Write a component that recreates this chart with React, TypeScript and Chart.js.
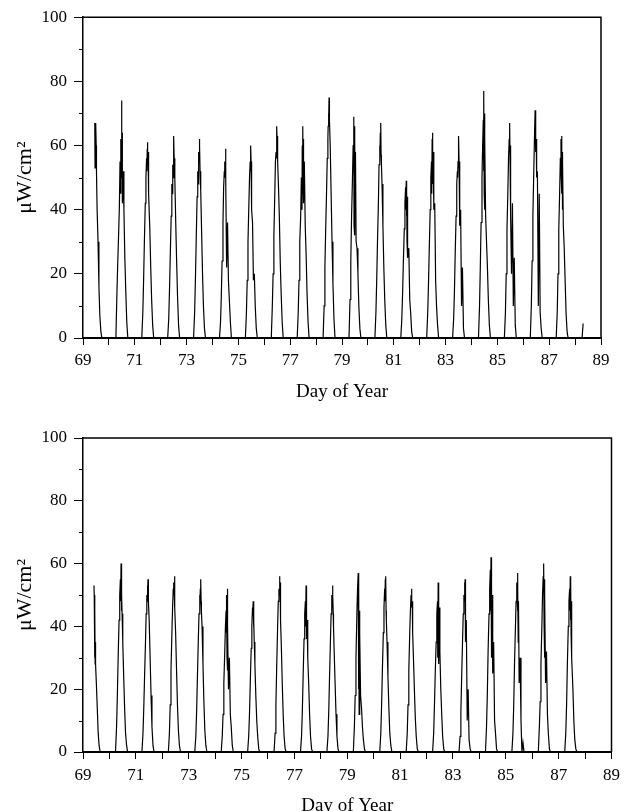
import React, { useEffect, useRef } from 'react';
import { Chart, registerables } from 'chart.js';

Chart.register(...registerables);

const FONT = "'Liberation Serif', 'Times New Roman', Times, serif";

// Day of year (start of each day)
const DAYS = [69, 70, 71, 72, 73, 74, 75, 76, 77, 78, 79, 80, 81, 82, 83, 84, 85, 86, 87, 88];

// Labelled x ticks and y ticks
const X_TICK_LABELS = ['69', '71', '73', '75', '77', '79', '81', '83', '85', '87', '89'];
const Y_MINOR_TICKS = [10, 30, 50, 70, 90];

const Y_TITLE = '\u03bcW/cm\u00b2';
const X_TITLE = 'Day of Year';

// Sample times within each day (fraction of day) – top panel
const TOP_FRACTIONS = [0.27, 0.31, 0.34, 0.37, 0.405, 0.43, 0.455, 0.465, 0.48, 0.49, 0.50, 0.51, 0.52, 0.545, 0.58, 0.615, 0.65, 0.69, 0.73];

// Irradiance (µW/cm²) per day – top panel
const TOP_VALUES: (number | null)[][] = [
  [null, null, null, null, null, null, 67, 53, 66, 56, 67, 60, 52, 40, 30, 16, 7, 2, 0],
  [0, 14, 23, 31, 41, 55, 45, 62, 50, 74, 58, 64, 42, 52, 40, 25, 15, 5, 0],
  [0, 8, 18, 30, 42, 50, 56, 52, 59, 61, 55, 58, 48, 45, 34, 22, 12, 4, 0],
  [0, 6, 15, 26, 38, 48, 45, 54, 50, 58, 52, 63, 56, 50, 36, 24, 13, 4, 0],
  [0, 8, 18, 30, 44, 52, 48, 58, 55, 62, 57, 60, 52, 46, 33, 20, 10, 3, 0],
  [0, 5, 13, 24, 36, 47, 52, 50, 55, 53, 57, 59, 50, 22, 36, 18, 12, 5, 0],
  [0, 8, 18, 30, 42, 50, 55, 52, 60, 55, 50, 45, 40, 36, 18, 20, 10, 3, 0],
  [0, 10, 20, 32, 45, 55, 58, 62, 56, 66, 60, 63, 55, 48, 38, 24, 14, 5, 0],
  [0, 8, 18, 30, 38, 50, 40, 60, 45, 66, 48, 62, 42, 55, 35, 26, 14, 5, 0],
  [0, 10, 22, 34, 46, 56, 62, 66, 70, 68, 75, 72, 68, 60, 45, 30, 17, 6, 0],
  [0, 12, 24, 38, 50, 60, 69, 35, 66, 32, 62, 40, 58, 30, 28, 20, 10, 3, 0],
  [0, 8, 18, 30, 42, 54, 60, 56, 64, 58, 67, 57, 55, 48, 35, 22, 12, 4, 0],
  [0, 6, 14, 24, 34, 42, 47, 40, 49, 38, 46, 30, 44, 25, 28, 12, 8, 2, 0],
  [0, 8, 17, 28, 40, 50, 55, 45, 62, 48, 64, 52, 58, 40, 42, 18, 10, 4, 0],
  [0, 6, 14, 26, 38, 48, 52, 50, 55, 58, 60, 63, 55, 35, 40, 10, 22, 3, 0],
  [0, 10, 22, 36, 50, 60, 68, 52, 77, 45, 70, 40, 62, 38, 30, 22, 12, 4, 0],
  [0, 8, 20, 34, 46, 56, 62, 58, 67, 55, 45, 60, 38, 20, 42, 10, 25, 4, 0],
  [0, 10, 24, 38, 52, 62, 71, 64, 68, 58, 62, 55, 50, 52, 10, 45, 8, 3, 0],
  [0, 8, 20, 34, 46, 56, 62, 50, 63, 45, 58, 40, 55, 35, 28, 18, 8, 2, 0],
  [0, 4.5, null, null, null, null, null, null, null, null, null, null, null, null, null, null, null, null, null],
];

// Sample times within each day (fraction of day) – bottom panel
const BOTTOM_FRACTIONS = [0.23, 0.27, 0.30, 0.33, 0.365, 0.39, 0.415, 0.425, 0.44, 0.45, 0.46, 0.47, 0.48, 0.505, 0.54, 0.575, 0.61, 0.65, 0.69];

// Irradiance (µW/cm²) per day – bottom panel
const BOTTOM_VALUES: (number | null)[][] = [
  [null, null, null, null, null, null, 53, 50, 30, 45, 28, 35, 28, 22, 14, 6, 2, 0, 0],
  [0, 8, 18, 30, 42, 50, 55, 48, 60, 45, 58, 50, 44, 35, 24, 14, 6, 2, 0],
  [0, 6, 14, 24, 35, 44, 50, 48, 53, 50, 55, 52, 48, 42, 30, 18, 8, 2, 0],
  [0, 6, 15, 26, 38, 46, 52, 50, 54, 52, 56, 50, 46, 38, 26, 15, 7, 2, 0],
  [0, 5, 13, 24, 36, 44, 50, 46, 52, 50, 55, 48, 45, 40, 28, 16, 7, 2, 0],
  [0, 5, 12, 22, 32, 40, 45, 38, 50, 30, 52, 26, 40, 20, 30, 12, 8, 2, 0],
  [0, 5, 12, 22, 33, 40, 46, 44, 48, 45, 40, 42, 35, 28, 18, 10, 5, 1, 0],
  [0, 6, 15, 27, 40, 48, 52, 50, 56, 52, 54, 48, 42, 34, 22, 12, 5, 1, 0],
  [0, 5, 13, 24, 36, 44, 48, 40, 53, 36, 48, 38, 42, 30, 22, 12, 5, 1, 0],
  [0, 5, 13, 24, 36, 44, 50, 46, 53, 48, 50, 44, 40, 32, 22, 12, 5, 1, 0],
  [0, 8, 18, 30, 44, 52, 57, 20, 52, 12, 45, 25, 38, 18, 14, 8, 4, 1, 0],
  [0, 6, 15, 26, 38, 46, 52, 48, 55, 50, 56, 45, 42, 35, 24, 14, 6, 2, 0],
  [0, 6, 15, 26, 38, 45, 50, 48, 52, 46, 48, 42, 38, 30, 20, 11, 5, 1, 0],
  [0, 6, 15, 25, 35, 44, 48, 30, 54, 35, 52, 28, 46, 32, 20, 12, 5, 1, 0],
  [0, 5, 13, 24, 36, 44, 50, 48, 54, 50, 55, 48, 35, 42, 10, 20, 4, 1, 0],
  [0, 8, 18, 32, 44, 52, 58, 45, 62, 30, 55, 38, 50, 25, 35, 10, 6, 1, 0],
  [0, 6, 15, 28, 40, 48, 54, 50, 57, 45, 52, 35, 48, 22, 30, 10, 0, 3, 0],
  [0, 8, 16, 28, 40, 50, 56, 52, 60, 40, 55, 30, 50, 22, 32, 12, 6, 1, 0],
  [0, 6, 15, 28, 40, 48, 52, 45, 56, 42, 54, 38, 48, 30, 20, 10, 4, 1, 0],
  [null, null, null, null, null, null, null, null, null, null, null, null, null, null, null, null, null, null, null],
];

function buildPoints(fractions: number[], rows: (number | null)[][]) {
  const pts: { x: number; y: number | null }[] = [];
  DAYS.forEach((d, i) => {
    rows[i].forEach((v, j) => {
      pts.push({ x: d + fractions[j], y: v });
    });
  });
  return pts;
}

const framePlugin = {
  id: 'frame',
  afterDraw(chart: any) {
    const { ctx, chartArea } = chart;
    const { left, right, top, bottom } = chartArea;
    const yScale = chart.scales.y;
    ctx.save();
    ctx.strokeStyle = '#000';
    ctx.lineWidth = 1.5;
    ctx.beginPath();
    ctx.moveTo(left, top);
    ctx.lineTo(right, top);
    ctx.lineTo(right, bottom);
    ctx.stroke();
    ctx.lineWidth = 1;
    ctx.beginPath();
    Y_MINOR_TICKS.forEach((v) => {
      const py = Math.round(yScale.getPixelForValue(v)) + 0.5;
      ctx.moveTo(left - 4, py);
      ctx.lineTo(left, py);
    });
    ctx.stroke();
    ctx.restore();
  },
};

interface PanelOpts {
  padTop: number;
  padRight: number;
  xHeight: number;
  tickPad: number;
  titlePadBottom: number;
}

function makeConfig(points: any[], o: PanelOpts): any {
  return {
    type: 'line',
    data: {
      datasets: [
        {
          data: points,
          borderColor: '#000',
          borderWidth: 1.2,
          pointRadius: 0,
          tension: 0,
          spanGaps: false,
          fill: false,
        },
      ],
    },
    options: {
      responsive: false,
      animation: false,
      devicePixelRatio: 1,
      layout: { padding: { left: 0, top: o.padTop, right: o.padRight, bottom: 0 } },
      plugins: { legend: { display: false }, tooltip: { enabled: false } },
      scales: {
        x: {
          type: 'linear',
          min: 69,
          max: 89,
          afterFit: (s: any) => {
            s.height = o.xHeight;
          },
          ticks: {
            stepSize: 1,
            autoSkip: false,
            maxRotation: 0,
            padding: o.tickPad,
            color: '#000',
            font: { family: FONT, size: 17 },
            callback: (v: any) => (X_TICK_LABELS.includes(String(v)) ? String(v) : ''),
          },
          grid: { display: true, drawOnChartArea: false, drawTicks: true, tickLength: 7, color: '#000', lineWidth: 1 },
          border: { display: true, color: '#000', width: 2 },
          title: {
            display: true,
            text: X_TITLE,
            color: '#000',
            font: { family: FONT, size: 19 },
            padding: { top: 0, bottom: o.titlePadBottom },
          },
        },
        y: {
          type: 'linear',
          min: 0,
          max: 100,
          afterFit: (s: any) => {
            s.width = 83;
          },
          ticks: {
            stepSize: 20,
            padding: 7,
            color: '#000',
            font: { family: FONT, size: 17 },
          },
          grid: { display: true, drawOnChartArea: false, drawTicks: true, tickLength: 9, color: '#000', lineWidth: 1 },
          border: { display: true, color: '#000', width: 1.5 },
          title: {
            display: true,
            text: Y_TITLE,
            color: '#000',
            font: { family: FONT, size: 22 },
            padding: { top: 12, bottom: 0 },
          },
        },
      },
    },
    plugins: [framePlugin],
  };
}

export default function App() {
  const topRef = useRef<HTMLCanvasElement | null>(null);
  const bottomRef = useRef<HTMLCanvasElement | null>(null);

  useEffect(() => {
    const charts: Chart[] = [];
    if (topRef.current) {
      charts.push(
        new Chart(
          topRef.current,
          makeConfig(buildPoints(TOP_FRACTIONS, TOP_VALUES), {
            padTop: 16,
            padRight: 25,
            xHeight: 67,
            tickPad: 5,
            titlePadBottom: 1.6,
          })
        )
      );
    }
    if (bottomRef.current) {
      charts.push(
        new Chart(
          bottomRef.current,
          makeConfig(buildPoints(BOTTOM_FRACTIONS, BOTTOM_VALUES), {
            padTop: 33,
            padRight: 9,
            xHeight: 73,
            tickPad: 6,
            titlePadBottom: 8,
          })
        )
      );
    }
    return () => {
      charts.forEach((c) => c.destroy());
    };
  }, []);

  return (
    <div
      style={{
        position: 'fixed',
        top: 0,
        left: 0,
        width: 626,
        height: 811,
        overflow: 'hidden',
        background: '#fff',
      }}
    >
      <canvas ref={topRef} width={626} height={405} style={{ display: 'block' }} />
      <canvas ref={bottomRef} width={626} height={420} style={{ display: 'block' }} />
    </div>
  );
}
